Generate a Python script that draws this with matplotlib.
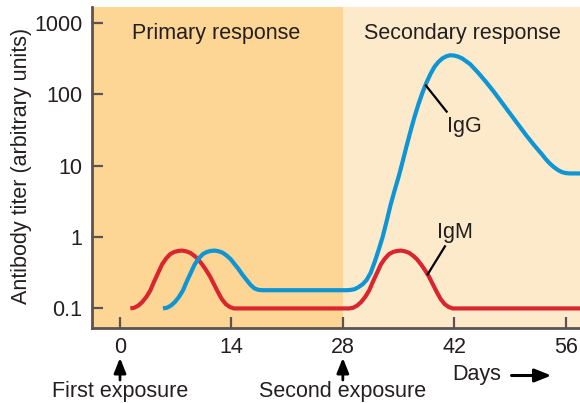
import matplotlib
matplotlib.use("Agg")
import matplotlib.pyplot as plt
import numpy as np

plt.rcParams['font.family'] = ['Liberation Sans', 'DejaVu Sans']

# log10 of antibody titer (arbitrary units) against days after first exposure
igm_days = [1.3, 1.8, 2.3, 2.8, 3.3, 3.8, 4.3, 4.8, 5.3, 5.8, 6.3, 6.8, 7.3, 7.8,
            8.3, 8.8, 9.3, 9.8, 10.3, 10.8, 11.3, 11.8, 12.3, 12.8, 13.3, 13.8, 14.3,
            28.8, 29.3, 29.8, 30.3, 30.8, 31.3, 31.8, 32.3, 32.8, 33.3, 33.8, 34.3,
            34.8, 35.3, 35.8, 36.3, 36.8, 37.3, 37.8, 38.3, 38.8, 39.3, 39.8, 40.3,
            40.8, 41.3, 41.8, 58]
igm_log10 = [-1.0, -0.99, -0.96, -0.91, -0.84, -0.75, -0.62, -0.5, -0.38, -0.3,
             -0.24, -0.21, -0.195, -0.19,
             -0.2, -0.22, -0.26, -0.31, -0.38, -0.46, -0.55, -0.66, -0.77, -0.87,
             -0.94, -0.98, -1.0,
             -1.0, -0.99, -0.96, -0.91, -0.84, -0.75, -0.62, -0.5, -0.38, -0.3,
             -0.24, -0.21, -0.195, -0.19,
             -0.2, -0.22, -0.26, -0.31, -0.38, -0.46, -0.55, -0.66, -0.77, -0.87,
             -0.94, -0.98, -1.0, -1.0]

igg_days = [5.4, 5.9, 6.4, 6.9, 7.4, 7.9, 8.4, 8.9, 9.4, 9.9, 10.4, 10.9, 11.4, 11.9,
            12.4, 12.9, 13.4, 13.9, 14.4, 14.9, 15.4, 15.9, 16.4, 16.9, 17.4, 17.9,
            28.5, 29, 29.5, 30, 30.5, 31, 31.5, 32, 32.5, 33, 33.5, 34, 34.5, 35,
            35.5, 36, 36.5, 37, 37.5, 38, 38.5, 39, 39.5, 40, 40.5, 41, 41.5, 42,
            42.5, 43, 43.5, 44, 45, 46, 47, 48, 49, 50, 51, 52, 53, 53.5, 54, 54.5,
            55, 55.5, 56, 56.5, 58]
igg_log10 = [-1.0, -0.99, -0.96, -0.91, -0.84, -0.75, -0.62, -0.5, -0.38, -0.3,
             -0.24, -0.21, -0.195, -0.19,
             -0.2, -0.22, -0.26, -0.31, -0.38, -0.45, -0.53, -0.6, -0.67, -0.72,
             -0.74, -0.745,
             -0.745, -0.74, -0.73, -0.7, -0.66, -0.6, -0.5, -0.35, -0.18, 0.0, 0.22,
             0.45, 0.65, 0.84, 1.05, 1.27, 1.48, 1.68, 1.86, 2.02, 2.16, 2.28, 2.38,
             2.45, 2.5, 2.53, 2.545, 2.54,
             2.525, 2.5, 2.46, 2.42, 2.3, 2.17, 2.03, 1.88, 1.73, 1.58, 1.43, 1.29,
             1.16, 1.09, 1.03, 0.98, 0.94, 0.91, 0.895, 0.89, 0.89]

day_ticks = [0, 14, 28, 42, 56]
titer_ticks = [0.1, 1, 10, 100, 1000]
titer_labels = ['0.1', '1', '10', '100', '1000']

ink = '#231f20'
spine = '#5b5352'
fs = 15.5

fig = plt.figure(figsize=(5.8, 4.03), dpi=100)
ax = fig.add_axes([0.1586, 0.1868, 1 - 0.1586, 0.9826 - 0.1868])

ax.axvspan(-3.52, 28, color='#fdd595', lw=0, zorder=0)
ax.axvspan(28, 58, color='#fdeacb', lw=0, zorder=0)

ax.plot(igm_days, 10 ** np.array(igm_log10), color='#d9262e', lw=3,
        solid_capstyle='butt', solid_joinstyle='round', zorder=3)
ax.plot(igg_days, 10 ** np.array(igg_log10), color='#0d95d5', lw=3,
        solid_capstyle='butt', solid_joinstyle='round', zorder=3)

ax.set_yscale('log')
ax.set_xlim(-3.52, 57.8)
ax.set_ylim(0.0537, 1660)
ax.set_xticks(day_ticks)
ax.set_xticklabels([str(d) for d in day_ticks])
ax.set_yticks(titer_ticks)
ax.set_yticklabels(titer_labels)
ax.yaxis.set_minor_locator(matplotlib.ticker.NullLocator())

for s in ['top', 'right']:
    ax.spines[s].set_visible(False)
for s in ['left', 'bottom']:
    ax.spines[s].set_color(spine)
    ax.spines[s].set_linewidth(2)
ax.tick_params(direction='in', length=8, width=1.6, color=spine,
               labelsize=fs, labelcolor=ink, pad=7)

ax.set_ylabel('Antibody titer (arbitrary units)', fontsize=fs, color=ink)
ax.yaxis.set_label_coords(-0.122, 0.503)

ax.text(12.1, 700, 'Primary response', ha='center', va='center', fontsize=fs, color=ink)
ax.text(43, 700, 'Secondary response', ha='center', va='center', fontsize=fs, color=ink)

# curve labels with pointer lines
ax.plot([38.44, 41.04], [132, 57], color='black', lw=1.6, zorder=4)
ax.text(43.3, 35, 'IgG', ha='center', va='center', fontsize=fs, color=ink)
ax.plot([38.66, 40.83], [0.30, 0.74], color='black', lw=1.6, zorder=4)
ax.text(42.1, 1.17, 'IgM', ha='center', va='center', fontsize=fs, color=ink)

# exposure markers and the day-axis arrow below the axes
xt = ax.get_xaxis_transform()
head = '-|>,head_length=0.45,head_width=0.18'
for d, lab in [(0, 'First exposure'), (28, 'Second exposure')]:
    ax.annotate('', xy=(d, -0.094), xytext=(d, -0.163), xycoords=xt, textcoords=xt,
                arrowprops=dict(arrowstyle=head, color='black', lw=2, mutation_scale=20,
                                shrinkA=0, shrinkB=0), annotation_clip=False)
    ax.text(d, -0.20, lab, transform=xt, ha='center', va='center', fontsize=fs, color=ink)

ax.text(44.8, -0.147, 'Days', transform=xt, ha='center', va='center', fontsize=fs, color=ink)
ax.annotate('', xy=(54.2, -0.149), xytext=(49.2, -0.149), xycoords=xt, textcoords=xt,
            arrowprops=dict(arrowstyle=head, color='black', lw=2.2, mutation_scale=22,
                            shrinkA=0, shrinkB=0), annotation_clip=False)

fig.savefig('out.png', dpi=100)
